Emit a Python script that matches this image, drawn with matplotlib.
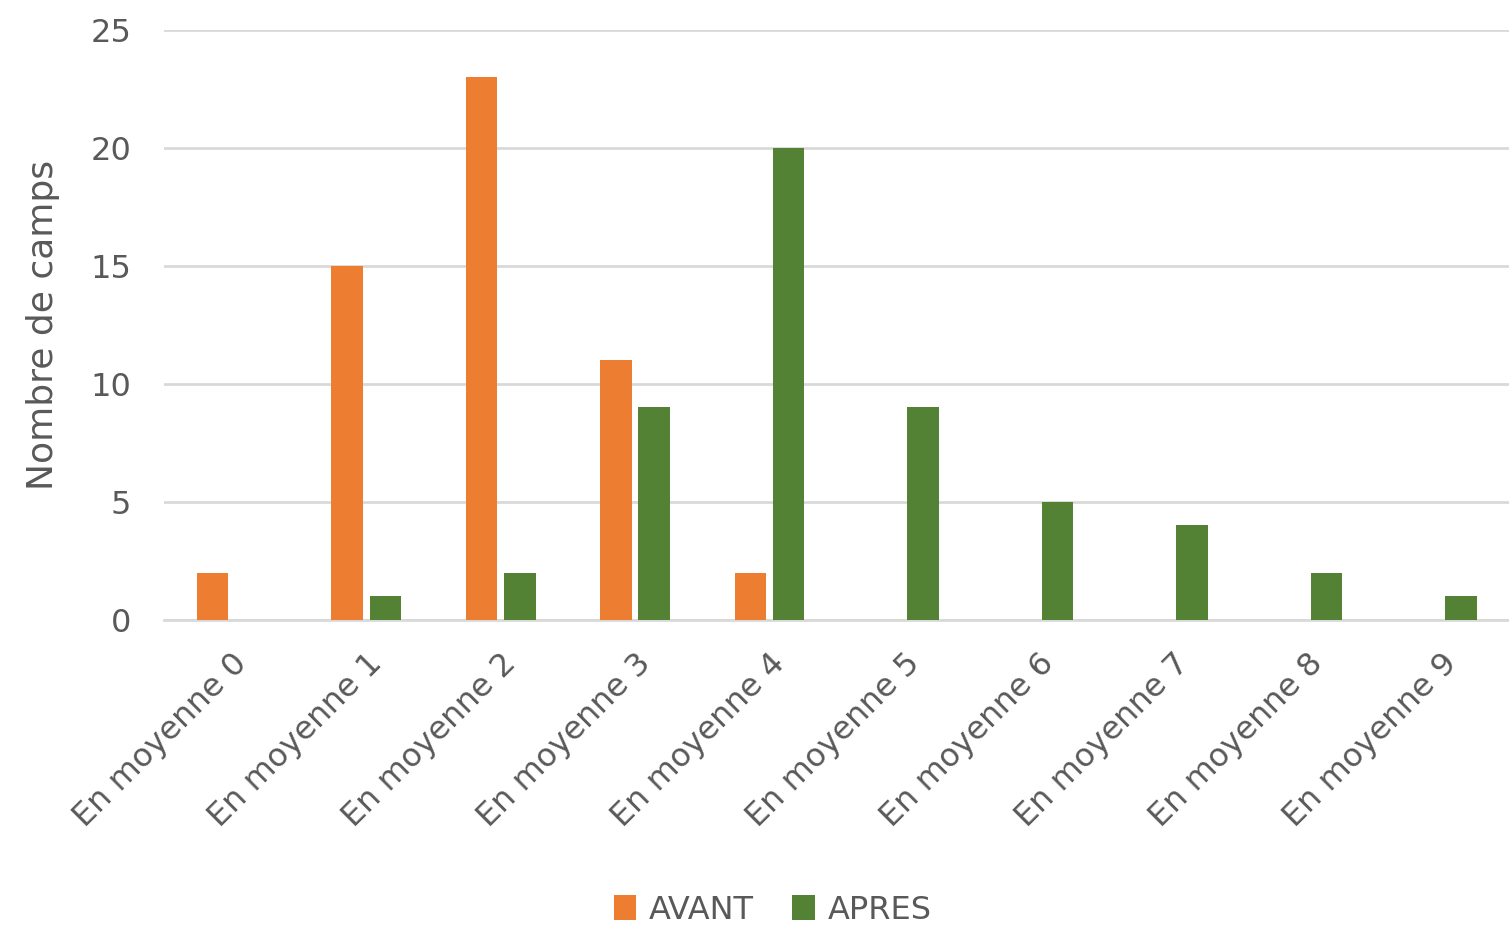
import numpy as np
import matplotlib.pyplot as plt

plt.rcParams['font.family'] = ['DejaVu Sans']

# data
categories = ['En moyenne %d' % i for i in range(10)]
avant = [2, 15, 23, 11, 2, 0, 0, 0, 0, 0]
apres = [0, 1, 2, 9, 20, 9, 5, 4, 2, 1]
yticks = [0, 5, 10, 15, 20, 25]

text_col = '#595959'
grid_col = '#D9D9D9'

fig = plt.figure(figsize=(15.09, 9.25), dpi=100)
ax = fig.add_axes([0.109, 0.330, 0.891, 0.638])

x = np.arange(len(categories))
w = 0.235
gap = 0.025
ax.bar(x - gap - w / 2, avant, width=w, color='#ED7D31', label='AVANT', zorder=3)
ax.bar(x + gap + w / 2, apres, width=w, color='#548235', label='APRES', zorder=3)

ax.set_xlim(-0.5, len(categories) - 0.5)
ax.set_ylim(0, 25)
ax.set_yticks(yticks)
ax.yaxis.grid(True, color=grid_col, linewidth=2, zorder=0)
ax.set_axisbelow(True)

for s in ['top', 'right', 'left']:
    ax.spines[s].set_visible(False)
ax.spines['bottom'].set_color(grid_col)
ax.spines['bottom'].set_linewidth(2)
ax.tick_params(axis='both', length=0, labelsize=23, colors=text_col)
ax.tick_params(axis='y', pad=24)

ax.set_xticks(x)
ax.set_xticklabels(categories, rotation=45, ha='right', rotation_mode='anchor')
ax.tick_params(axis='x', pad=20)

ax.set_ylabel('Nombre de camps', fontsize=26, color=text_col, labelpad=22)

fig.legend(loc='center', bbox_to_anchor=(0.512, 0.016), ncol=2, frameon=False,
           fontsize=23, labelcolor=text_col, handlelength=0.7, handleheight=0.8,
           columnspacing=1.2, handletextpad=0.4)

fig.savefig('out.png', dpi=100)
